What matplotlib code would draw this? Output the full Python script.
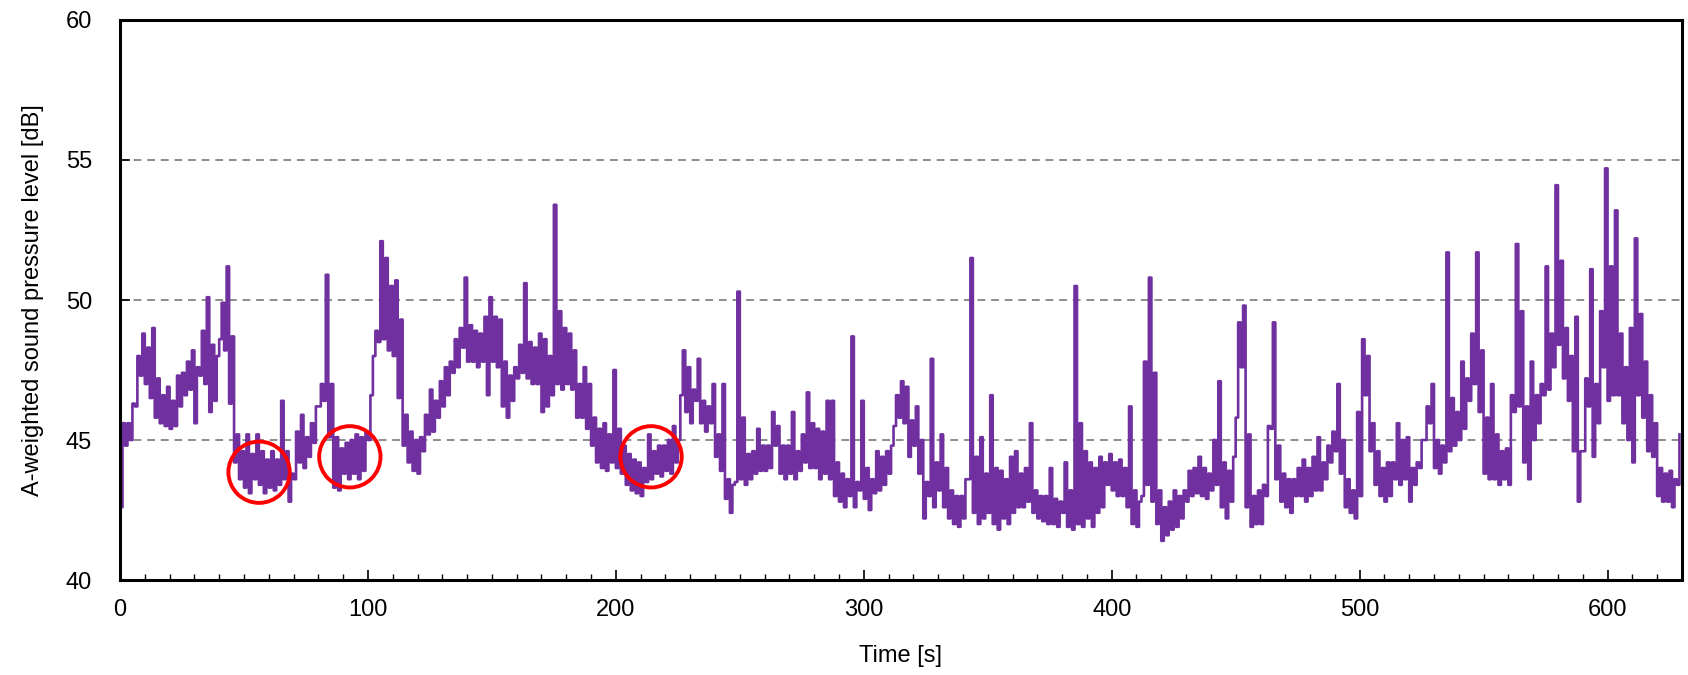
import matplotlib
matplotlib.use("Agg")
import matplotlib.pyplot as plt
import numpy as np

# sound level in 2 s bins: low and high of each bin [dB]
bin_start = np.arange(0, 630, 2)

level_lo = [
    42.6, 44.8, 45.0, 46.2, 47.3, 47.0, 46.5, 45.8, 45.6, 45.5,   # 0-18
    45.4, 45.5, 46.2, 46.6, 46.8, 45.6, 47.3, 47.0, 46.0, 46.4,   # 20-38
    48.6, 48.2, 46.3, 44.2, 43.6, 43.3, 43.1, 43.6, 43.4, 43.1,   # 40-58
    43.3, 43.2, 43.4, 43.6, 42.8, 43.6, 44.2, 44.0, 44.4, 44.9,   # 60-78
    46.2, 46.4, 45.1, 43.3, 43.2, 43.8, 43.6, 43.8, 43.6, 43.9,   # 80-98
    45.0, 48.0, 48.5, 48.6, 48.2, 48.0, 46.5, 44.8, 44.2, 43.9,   # 100-118
    43.8, 44.6, 45.2, 45.3, 45.8, 46.2, 46.6, 47.4, 47.6, 48.3,   # 120-138
    47.8, 47.8, 47.6, 47.8, 46.6, 47.8, 47.6, 46.2, 45.8, 46.4,   # 140-158
    47.2, 47.4, 47.2, 47.0, 47.0, 46.0, 46.2, 46.6, 47.0, 46.8,   # 160-178
    47.0, 46.8, 45.8, 45.8, 45.4, 44.8, 44.2, 44.0, 43.9, 44.2,   # 180-198
    44.0, 43.8, 43.4, 43.2, 43.1, 43.0, 43.5, 43.6, 43.8, 43.7,   # 200-218
    43.9, 43.8, 44.2, 46.6, 46.0, 45.6, 46.4, 45.6, 45.3, 45.6,   # 220-238
    44.4, 43.9, 42.9, 42.4, 43.5, 43.6, 43.4, 43.6, 43.8, 43.9,   # 240-258
    43.9, 44.0, 44.8, 43.8, 43.6, 43.8, 43.6, 43.9, 44.2, 44.0,   # 260-278
    44.0, 43.6, 43.8, 43.6, 43.0, 42.8, 42.6, 43.0, 42.6, 43.2,   # 280-298
    42.9, 42.5, 43.1, 43.2, 43.4, 43.8, 45.5, 45.8, 45.6, 44.4,   # 300-318
    44.8, 43.8, 42.2, 43.0, 42.6, 43.2, 42.6, 42.2, 42.0, 41.9,   # 320-338
    42.2, 43.6, 42.4, 42.0, 42.2, 42.4, 42.0, 41.8, 42.2, 42.0,   # 340-358
    42.4, 42.6, 42.6, 42.8, 42.4, 42.2, 42.1, 42.0, 42.0, 41.9,   # 360-378
    42.4, 41.9, 41.8, 42.0, 41.9, 42.2, 41.9, 42.4, 42.6, 43.4,   # 380-398
    43.2, 43.0, 43.0, 42.6, 42.0, 41.9, 43.0, 43.4, 42.8, 42.0,   # 400-418
    41.4, 41.6, 41.8, 41.9, 42.2, 42.8, 43.0, 43.1, 43.0, 42.9,   # 420-438
    43.2, 43.4, 42.6, 42.2, 42.8, 45.8, 47.6, 42.6, 41.9, 42.0,   # 440-458
    42.0, 43.0, 45.4, 43.6, 42.8, 42.6, 42.4, 43.0, 43.0, 42.8,   # 460-478
    43.0, 43.2, 43.2, 43.6, 44.2, 44.6, 43.8, 42.6, 42.4, 42.2,   # 480-498
    43.0, 46.6, 44.6, 43.4, 43.0, 42.8, 43.0, 43.6, 43.4, 43.6,   # 500-518
    42.8, 43.4, 44.0, 45.0, 45.6, 44.0, 43.8, 44.2, 44.6, 44.8,   # 520-538
    45.0, 45.4, 46.4, 47.0, 46.0, 43.8, 43.6, 43.6, 43.4, 43.6,   # 540-558
    43.4, 46.0, 46.2, 44.2, 43.6, 45.0, 45.6, 46.6, 46.8, 47.6,   # 560-578
    48.4, 47.2, 46.4, 44.6, 42.8, 44.6, 46.2, 44.4, 45.6, 47.6,   # 580-598
    46.4, 46.6, 46.6, 45.6, 45.0, 44.2, 46.6, 45.8, 44.6, 44.4,   # 600-618
    43.0, 42.8, 42.8, 42.6, 43.4,                                 # 620-628
]

level_hi = [
    45.6, 45.6, 46.3, 48.0, 48.8, 48.3, 49.0, 47.2, 46.6, 46.9,   # 0-18
    46.4, 47.3, 47.4, 47.8, 48.2, 47.6, 48.9, 50.1, 48.4, 48.0,   # 20-38
    49.9, 51.2, 48.7, 45.2, 44.6, 45.2, 44.5, 45.2, 44.6, 44.3,   # 40-58
    44.6, 44.3, 46.4, 44.6, 43.8, 45.3, 45.9, 45.1, 45.6, 46.2,   # 60-78
    47.0, 50.9, 47.0, 45.1, 44.7, 44.9, 45.0, 45.2, 45.1, 45.3,   # 80-98
    46.6, 48.9, 52.1, 51.5, 50.5, 50.7, 49.3, 45.9, 45.3, 45.0,   # 100-118
    45.1, 45.9, 46.8, 46.4, 47.1, 47.6, 47.8, 48.6, 49.0, 50.8,   # 120-138
    49.1, 48.9, 48.8, 49.4, 50.1, 49.4, 49.3, 47.8, 47.3, 47.6,   # 140-158
    48.4, 50.6, 48.5, 48.3, 48.8, 48.6, 48.0, 53.4, 49.6, 49.0,   # 160-178
    48.8, 48.2, 47.0, 47.6, 47.0, 45.8, 45.4, 45.6, 45.2, 47.5,   # 180-198
    45.4, 44.8, 44.5, 44.3, 44.2, 44.0, 45.2, 44.6, 44.8, 44.8,   # 200-218
    45.0, 45.5, 45.0, 48.2, 47.6, 46.8, 47.9, 46.4, 46.2, 47.0,   # 220-238
    45.2, 47.0, 43.6, 43.4, 50.3, 45.8, 44.5, 44.6, 45.4, 44.8,   # 240-258
    44.8, 46.0, 45.5, 44.8, 44.8, 46.0, 44.6, 45.2, 46.7, 45.6,   # 260-278
    45.4, 45.3, 46.4, 46.4, 44.2, 43.8, 43.6, 48.7, 43.5, 46.4,   # 280-298
    44.0, 43.6, 44.6, 44.4, 44.6, 44.8, 46.6, 47.1, 46.9, 45.7,   # 300-318
    46.2, 45.0, 43.5, 47.9, 44.2, 45.2, 44.0, 43.2, 43.0, 43.0,   # 320-338
    43.6, 51.5, 44.4, 45.1, 43.8, 46.6, 44.0, 43.9, 43.6, 44.4,   # 340-358
    44.6, 43.8, 44.0, 45.6, 43.2, 43.0, 43.0, 44.0, 42.9, 42.8,   # 360-378
    44.2, 43.2, 50.5, 45.6, 44.6, 44.2, 44.0, 44.4, 44.2, 44.5,   # 380-398
    44.2, 44.3, 44.0, 46.2, 43.2, 42.8, 47.8, 50.8, 47.4, 43.2,   # 400-418
    42.6, 42.8, 43.2, 43.0, 43.2, 43.9, 44.0, 44.4, 44.0, 43.8,   # 420-438
    45.0, 47.1, 44.2, 43.9, 44.4, 49.2, 49.8, 45.2, 43.0, 43.2,   # 440-458
    43.4, 45.5, 49.2, 44.8, 43.8, 43.6, 43.6, 44.0, 44.3, 44.0,   # 460-478
    44.4, 45.1, 44.2, 44.8, 45.3, 47.0, 45.0, 43.6, 43.2, 46.0,   # 480-498
    48.6, 48.0, 45.6, 44.6, 44.0, 44.2, 44.2, 45.6, 45.0, 45.1,   # 500-518
    44.0, 44.2, 45.0, 46.2, 47.0, 45.0, 44.8, 51.7, 46.5, 46.0,   # 520-538
    47.8, 47.2, 48.8, 51.7, 48.2, 45.8, 47.0, 45.2, 44.6, 44.7,   # 540-558
    46.6, 52.0, 49.6, 46.2, 47.8, 46.6, 47.0, 51.2, 48.8, 54.1,   # 560-578
    51.4, 49.0, 48.0, 49.4, 44.6, 47.2, 51.1, 47.0, 49.6, 54.7,   # 580-598
    51.2, 53.2, 48.8, 47.6, 49.0, 52.2, 49.5, 47.8, 46.6, 45.6,   # 600-618
    44.0, 43.8, 43.9, 43.6, 45.2,                                 # 620-628
]

# red circles marking the quiet stretches (time [s], level [dB])
mark_t = [56.1, 92.7, 214.2]
mark_db = [43.85, 44.4, 44.4]

# one low and one high sample per bin, drawn as a stepped trace
t = np.column_stack([bin_start, bin_start + 1]).ravel()
db = np.column_stack([level_lo, level_hi]).ravel()

plt.rcParams["font.family"] = ["Liberation Sans", "DejaVu Sans"]

fig = plt.figure(figsize=(16.88, 6.75), dpi=100)
ax = fig.add_axes([0.0711, 0.1407, 0.9253, 0.8297])

for g in [45, 50, 55]:
    ax.axhline(g, color="#8c8c8c", lw=1.4, ls=(0, (4, 3)), zorder=1)

ax.plot(t, db, drawstyle="steps-post", color="#7030a0", lw=1.9, zorder=2)

ax.scatter(mark_t, mark_db, s=1950, facecolors="none", edgecolors="#ff0000",
           linewidths=2.8, zorder=3)

ax.set_xlim(0, 630)
ax.set_ylim(40, 60)
ax.set_xticks(np.arange(0, 601, 100))
ax.set_xticks(np.arange(0, 631, 10), minor=True)
ax.set_yticks(np.arange(40, 61, 5))

ax.tick_params(axis="both", which="both", direction="in", labelsize=17)
ax.tick_params(axis="x", which="major", length=7, width=1.2, pad=14)
ax.tick_params(axis="x", which="minor", length=4, width=1.0)
ax.tick_params(axis="y", which="major", length=7, width=1.2, pad=20)

for s in ax.spines.values():
    s.set_linewidth(2.2)
    s.set_color("black")

ax.set_xlabel("Time [s]", fontsize=17, labelpad=17)
ax.set_ylabel("A-weighted sound pressure level [dB]", fontsize=17, labelpad=16)

fig.savefig("out.png", dpi=100)
